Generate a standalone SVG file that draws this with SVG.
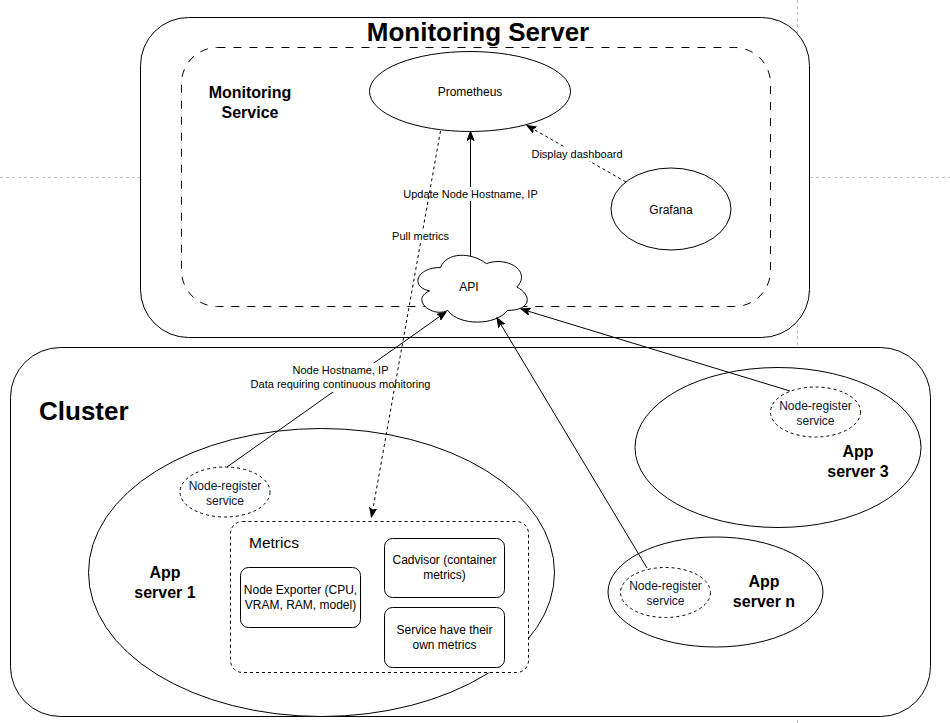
<svg xmlns="http://www.w3.org/2000/svg" width="950" height="723" viewBox="0 0 950 723">
<style>
text{font-family:"Liberation Sans",Arial,Helvetica,sans-serif;fill:#000;}
.shape{fill:#fff;stroke:#000;stroke-width:1;}
.dash8{stroke-dasharray:8 8;}
.dash3{stroke-dasharray:3 3;}
.guide{stroke:#c0c0c0;stroke-width:1;stroke-dasharray:3 3;fill:none;}
.edge{fill:none;stroke:#000;stroke-width:1;}
.lbl{font-size:11px;text-anchor:middle;}
.t12{font-size:12px;text-anchor:middle;}
.nr{font-size:12px;text-anchor:middle;fill:#0b1633;}
.bold16{font-size:16px;font-weight:bold;text-anchor:middle;}
.bg{fill:#fff;stroke:none;}
</style>
<defs>
<marker id="arrow" markerUnits="userSpaceOnUse" markerWidth="10" markerHeight="8" viewBox="0 0 10 8" refX="9" refY="4" orient="auto">
<path d="M0,0.5 L9,4 L0,7.5 L2.3,4 Z" fill="#000" stroke="#000" stroke-width="1" stroke-dasharray="none"/>
</marker>
</defs>

<g id="page-guides">
<line class="guide" x1="0" y1="177.5" x2="950" y2="177.5"/>
<line class="guide" x1="797.5" y1="0" x2="797.5" y2="723"/>
</g>

<g id="monitoring-server">
<rect class="shape" x="140.5" y="17.5" width="669" height="320" rx="48" ry="48"/>
<text x="478" y="41" style="font-size:26px;font-weight:bold;text-anchor:middle;">Monitoring Server</text>
</g>

<g id="monitoring-service">
<rect class="shape dash8" x="181.5" y="47.5" width="589" height="259" rx="36" ry="36"/>
<text class="bold16" x="250" y="98">Monitoring</text>
<text class="bold16" x="250" y="118">Service</text>
</g>

<g id="prometheus">
<ellipse class="shape" cx="470" cy="91.5" rx="100.5" ry="40"/>
<text class="t12" x="470" y="96">Prometheus</text>
</g>

<g id="grafana">
<ellipse class="shape" cx="671" cy="209" rx="60" ry="41"/>
<text class="t12" x="671" y="213.5">Grafana</text>
</g>

<g id="api">
<path class="shape" d="M440.5,267.5 C416.1,267.5 410,287 429.5,290.9 C410,299.5 432,318.2 447.8,310.4 C458.8,326 495.4,326 507.6,310.4 C532,310.4 532,294.8 516.8,287 C532,271.4 507.6,255.8 486.3,263.6 C471,251.9 446.6,251.9 440.5,267.5 Z"/>
<text class="t12" x="469" y="291">API</text>
</g>

<g id="cluster">
<rect class="shape" x="10.5" y="347.5" width="920" height="369" rx="50" ry="50"/>
<text x="39" y="420" style="font-size:26px;font-weight:bold;">Cluster</text>
</g>

<g id="app-server-1">
<ellipse class="shape" cx="321.5" cy="572.5" rx="233" ry="144"/>
<text class="bold16" x="165" y="578">App</text>
<text class="bold16" x="165" y="598">server 1</text>
</g>

<g id="node-register-1">
<ellipse class="shape dash3" cx="225" cy="492" rx="45" ry="25"/>
<text class="nr" x="225" y="489.5">Node-register</text>
<text class="nr" x="225" y="504.5">service</text>
</g>

<g id="metrics">
<rect class="shape dash3" x="230.5" y="521.5" width="298" height="151" rx="12" ry="12"/>
<text x="249" y="548" style="font-size:15.5px;">Metrics</text>
</g>

<g id="node-exporter">
<rect class="shape" x="240.5" y="567.5" width="120" height="60" rx="8" ry="8"/>
<text class="t12" x="300.5" y="594.3">Node Exporter (CPU,</text>
<text class="t12" x="300.5" y="609.3">VRAM, RAM, model)</text>
</g>

<g id="cadvisor">
<rect class="shape" x="384.5" y="538.5" width="120" height="59" rx="8" ry="8"/>
<text class="t12" x="444.5" y="564.3">Cadvisor (container</text>
<text class="t12" x="444.5" y="579.3">metrics)</text>
</g>

<g id="service-metrics">
<rect class="shape" x="384.5" y="607.5" width="120" height="60" rx="8" ry="8"/>
<text class="t12" x="444.5" y="633.8">Service have their</text>
<text class="t12" x="444.5" y="648.8">own metrics</text>
</g>

<g id="app-server-3">
<ellipse class="shape" cx="778" cy="447.5" rx="143" ry="80"/>
<text class="bold16" x="858" y="457">App</text>
<text class="bold16" x="858" y="477">server 3</text>
</g>

<g id="node-register-3">
<ellipse class="shape dash3" cx="815.5" cy="412" rx="45" ry="25"/>
<text class="nr" x="815.5" y="409.5">Node-register</text>
<text class="nr" x="815.5" y="424.5">service</text>
</g>

<g id="app-server-n">
<ellipse class="shape" cx="715.5" cy="592" rx="107.5" ry="55"/>
<text class="bold16" x="764" y="587">App</text>
<text class="bold16" x="764" y="607">server n</text>
</g>

<g id="node-register-n">
<ellipse class="shape dash3" cx="665.5" cy="592.5" rx="45" ry="25"/>
<text class="nr" x="665.5" y="589.5">Node-register</text>
<text class="nr" x="665.5" y="604.5">service</text>
</g>

<g id="connectors">
<line class="edge" x1="470.5" y1="256" x2="470.5" y2="131.5" marker-end="url(#arrow)"/>
<rect class="bg" x="402" y="187" width="137" height="14"/>
<text class="lbl" x="470.5" y="198">Update Node Hostname, IP</text>

<line class="edge dash3" x1="626" y1="182" x2="527" y2="125.5" marker-end="url(#arrow)"/>
<rect class="bg" x="530" y="147" width="94" height="14"/>
<text class="lbl" x="577" y="158">Display dashboard</text>

<line class="edge" x1="227" y1="467" x2="446" y2="312" marker-end="url(#arrow)"/>
<rect class="bg" x="250" y="363" width="181" height="29"/>
<text class="lbl" x="340.5" y="374">Node Hostname, IP</text>
<text class="lbl" x="340.5" y="388">Data requiring continuous monitoring</text>

<line class="edge" x1="790" y1="391" x2="521" y2="309" marker-end="url(#arrow)"/>

<line class="edge" x1="647" y1="568" x2="497" y2="318" marker-end="url(#arrow)"/>

<line class="edge dash3" x1="440.5" y1="131" x2="371.5" y2="517" marker-end="url(#arrow)"/>
<rect class="bg" x="391" y="229" width="59" height="14"/>
<text class="lbl" x="420.5" y="240">Pull metrics</text>
</g>
</svg>
